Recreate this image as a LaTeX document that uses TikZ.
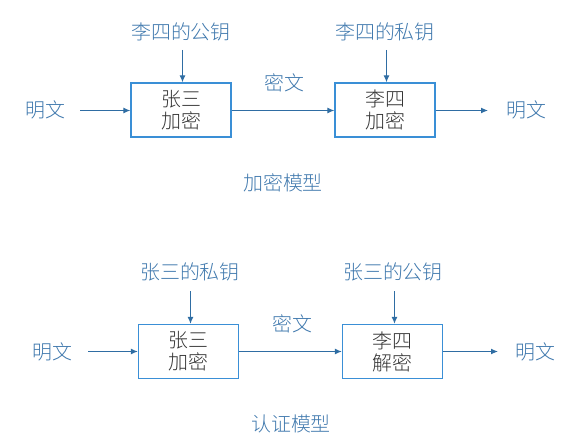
\documentclass[tikz,border=0pt]{standalone}
\usepackage{fontspec}
\newfontfamily\cjk{Noto Sans CJK SC Light}[Scale=1]
\usetikzlibrary{arrows.meta}
\definecolor{lab}{HTML}{3F78AD}
\definecolor{arr}{HTML}{2F6DA3}
\definecolor{boxc}{HTML}{3A8FD6}
\definecolor{intx}{HTML}{333333}
\begin{document}
\begin{tikzpicture}[x=1bp,y=-1bp,
  lbl/.style={text=lab,font=\cjk\fontsize{20}{22}\selectfont,inner sep=0pt},
  proc/.style={draw=boxc,line width=1.3bp,minimum width=100bp,minimum height=54bp,inner sep=0pt,
    text=intx,font=\cjk\fontsize{20}{22}\selectfont,align=center},
  conn/.style={draw=arr,line width=1.1bp,-{Latex[length=7bp,width=6bp]}}]
\useasboundingbox (0,0) rectangle (572,448);
% top
\node[proc] (a1) at (181,110) {张三\\加密};
\node[proc] (a2) at (385,110) {李四\\加密};
\node[lbl] (ak1) at (181,32) {李四的公钥};
\node[lbl] (ak2) at (385,32) {李四的私钥};
\node[lbl] (am1) at (45,110) {明文};
\node[lbl] (am2) at (526,110) {明文};
\node[lbl] (ac) at (284,83) {密文};
\node[lbl] (at) at (283,183) {加密模型};
\coordinate (as1) at (80,110.5);
\coordinate (ae2) at (488,110.5);
\coordinate (ad1) at (182.5,50);
\coordinate (ad2) at (386.5,50);
\draw[conn] (as1) -- (as1 -| a1.west);
\draw[conn] (a1.east |- as1) -- (as1 -| a2.west);
\draw[conn] (a2.east |- as1) -- (ae2);
\draw[conn] (ad1) -- (ad1 |- a1.north);
\draw[conn] (ad2) -- (ad2 |- a2.north);
% bottom
\node[proc] (b1) at (188.5,351.5) {张三\\加密};
\node[proc] (b2) at (392.5,351.5) {李四\\解密};
\node[lbl] (bk1) at (190,272) {张三的私钥};
\node[lbl] (bk2) at (393,272) {张三的公钥};
\node[lbl] (bm1) at (52,352) {明文};
\node[lbl] (bm2) at (535,352) {明文};
\node[lbl] (bc) at (292,324) {密文};
\node[lbl] (bt) at (291,424) {认证模型};
\coordinate (bs1) at (88,351.5);
\coordinate (be2) at (498,351.5);
\coordinate (bd1) at (190.5,291);
\coordinate (bd2) at (394.5,291);
\draw[conn] (bs1) -- (b1.west);
\draw[conn] (b1.east) -- (b2.west);
\draw[conn] (b2.east) -- (be2);
\draw[conn] (bd1) -- (bd1 |- b1.north);
\draw[conn] (bd2) -- (bd2 |- b2.north);
\end{tikzpicture}
\end{document}
